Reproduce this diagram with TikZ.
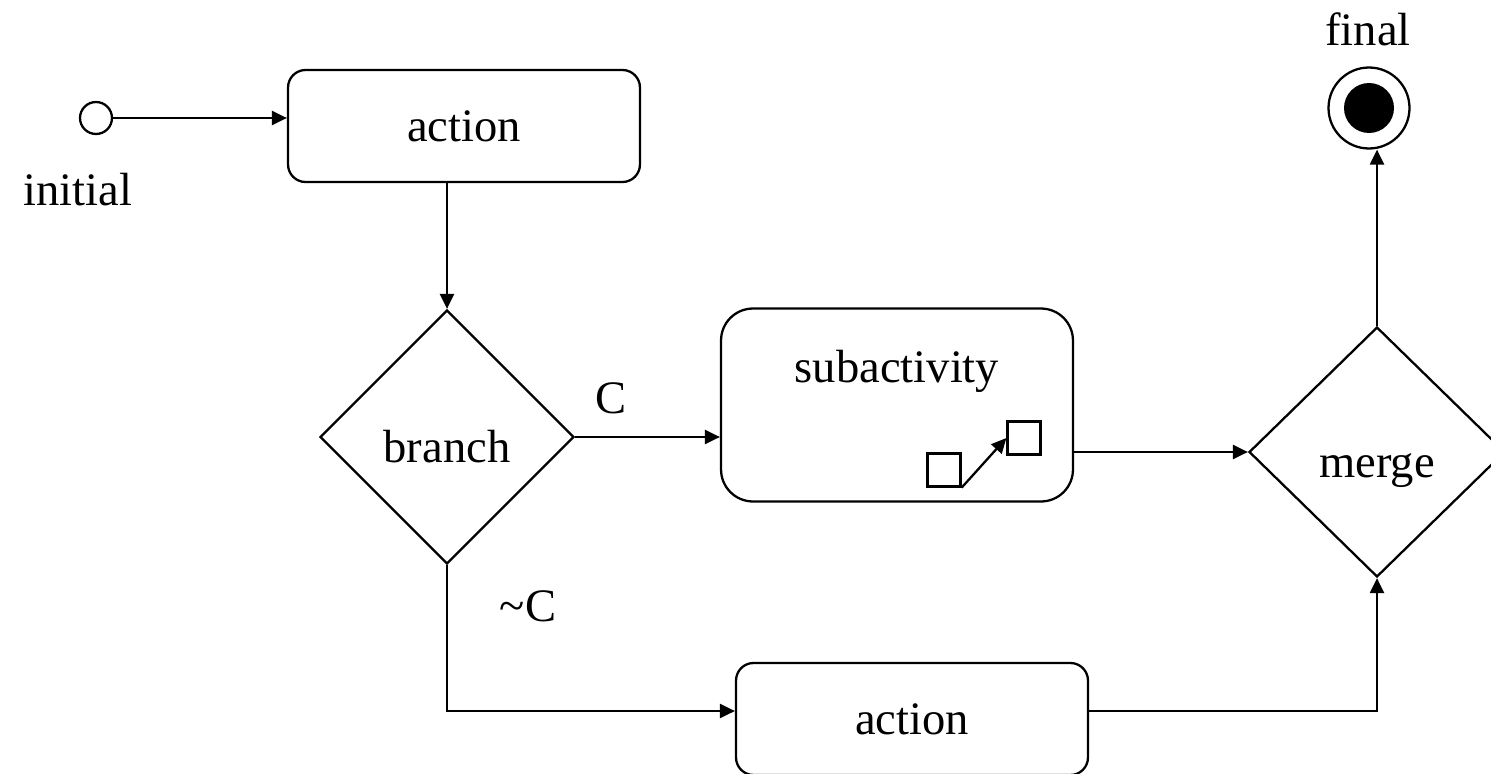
\documentclass[tikz,border=0pt]{standalone}
\usepackage{fontspec}
\setmainfont{Liberation Serif}
\usetikzlibrary{shapes.geometric,arrows.meta}
\tikzstyle{act} = [draw, line width=1.3pt, rounded corners=0.35cm, minimum width=7.04cm, minimum height=2.24cm]
\tikzstyle{decision} = [draw, diamond, line width=1.3pt, inner sep=0pt, minimum width=5.08cm, minimum height=5.08cm, text height=1.2cm, text depth=0.2cm]
\tikzstyle{port} = [draw, line width=1.3pt, inner sep=0pt, minimum size=0.66cm]
\tikzstyle{flow} = [line width=1.3pt, -{Triangle[length=0.3cm,width=0.28cm]}]

\begin{document}
\begin{tikzpicture}[x=0.02cm, y=-0.02cm, font=\fontsize{26.5}{32}\selectfont]
	\clip (0,0) rectangle (1491,774);
	% nodes
	\node[circle, draw, line width=1.3pt, inner sep=0pt, minimum size=0.64cm] (init) at (96,118) {};
	\node[anchor=base] (initname) at (78,205) {initial};
	\node[act] (act1) at (464,126) {action};
	\node[decision] (branch) at (447,437) {branch};
	\node[act, rounded corners=0.64cm, minimum height=3.86cm] (sub) at (897,405) {};
	\node[anchor=base] (subname) at (897,382) {subactivity};
	\node[port] (in) at (944,470) {};
	\node[port] (out) at (1024,438) {};
	\node[decision, minimum width=5.12cm, minimum height=5cm] (merge) at (1377,452) {merge};
	\node[act] (act2) at (912,719) {action};
	\node[circle, draw, line width=1.3pt, inner sep=0pt, minimum size=1.62cm] (final) at (1369,108) {};
	\fill (final) circle (0.5cm);
	\node[anchor=base] (finalname) at (1368,45) {final};
	\node (c) at (611,398) {C};
	\node (notc) at (528,606) {\textasciitilde C};
	% edges
	\draw[flow] (init) -- (init -| act1.west);
	\draw[flow] (branch.north |- act1.south) -- (branch.north);
	\draw[flow] (branch.east) -- (branch.east -| sub.west);
	\draw[flow] (in.south east) -- (out.west);
	\draw[flow] (merge.west -| sub.east) -- (merge.west);
	\draw[flow] (branch.south) |- ([yshift=0.16cm]act2.west);
	\draw[flow] ([yshift=0.16cm]act2.east) -| (merge.south);
	\draw[flow] (merge.north) -- (merge.north |- final.south);
\end{tikzpicture}
\end{document}
